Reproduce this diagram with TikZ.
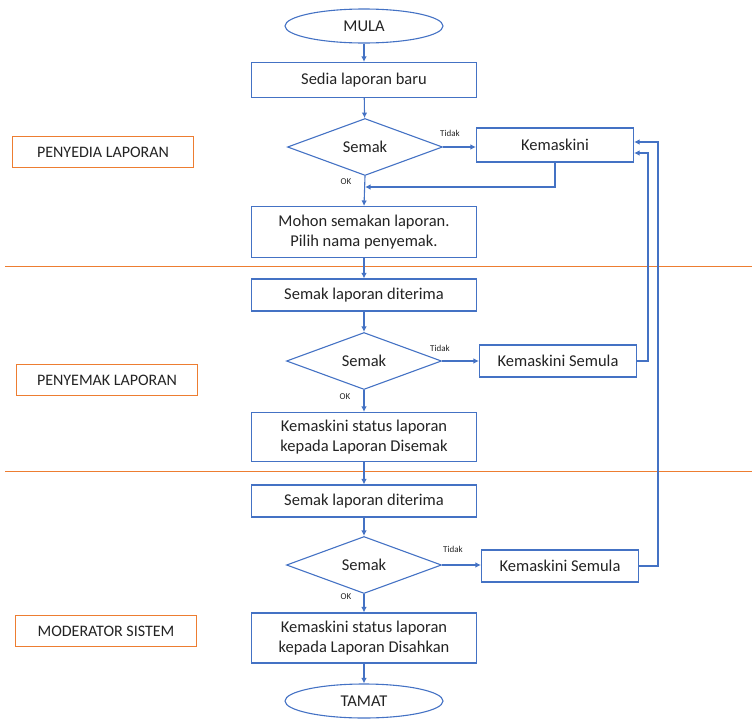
\documentclass[tikz,border=0pt]{standalone}
\usepackage{fontspec}
\setmainfont{Carlito}
\usetikzlibrary{shapes.geometric,arrows.meta}
\definecolor{flowblue}{RGB}{68,114,196}
\definecolor{laneorange}{RGB}{237,125,49}
\definecolor{txtgray}{RGB}{35,35,35}
\begin{document}
\begin{tikzpicture}[x=1pt,y=-1pt,
  every node/.style={font=\fontsize{16.5}{19}\selectfont, text=txtgray},
  procbox/.style={draw=flowblue, line width=1.1pt, rectangle, minimum width=225, minimum height=35, inner sep=0, align=center},
  sidebox/.style={draw=flowblue, line width=1.1pt, rectangle, minimum width=157, minimum height=32, inner sep=0},
  decbox/.style={draw=flowblue, line width=1.1pt, diamond, aspect=2.6, minimum width=155, minimum height=57, inner sep=0},
  termbox/.style={draw=flowblue, line width=1.1pt, ellipse, minimum width=158, minimum height=34, inner sep=0},
  lanebox/.style={draw=laneorange, line width=0.7pt, rectangle, minimum width=181, minimum height=31, inner sep=0, font=\fontsize{16}{18}\selectfont},
  smalllbl/.style={font=\fontsize{9}{10}\selectfont, inner sep=0},
  flow/.style={draw=flowblue, line width=1.1pt, -{Latex[length=5.5pt,width=5.5pt]}},
  lane/.style={draw=laneorange, line width=1pt}
]
\useasboundingbox (0,0) rectangle (755,718);

% lane separators
\coordinate (l1a) at (5,266); \coordinate (l1b) at (752,266);
\coordinate (l2a) at (5,471); \coordinate (l2b) at (752,471);
\draw[lane] (l1a) -- (l1b);
\draw[lane] (l2a) -- (l2b);

% lane labels
\node[lanebox] (lab1) at (103,152) {PENYEDIA LAPORAN};
\node[lanebox] (lab2) at (107,380) {PENYEMAK LAPORAN};
\node[lanebox] (lab3) at (106,631) {MODERATOR SISTEM};

% nodes
\node[termbox] (mula) at (364,26) {MULA};
\node[procbox] (sedia) at (364,80) {Sedia laporan baru};
\node[decbox] (d1) at (365,147) {Semak};
\node[sidebox, minimum height=34] (k1) at (555,145) {Kemaskini};
\node[procbox, minimum height=51] (mohon) at (364,232) {Mohon semakan laporan.\\[1pt]Pilih nama penyemak.};

\node[procbox, minimum height=32] (s2) at (364,295) {Semak laporan diterima};
\node[decbox] (d2) at (364,361) {Semak};
\node[sidebox] (k2) at (558,361) {Kemaskini Semula};
\node[procbox, minimum height=49] (st2) at (364,437) {Kemaskini status laporan\\[1pt]kepada Laporan Disemak};

\node[procbox, minimum height=32] (s3) at (364,501) {Semak laporan diterima};
\node[decbox] (d3) at (364,565) {Semak};
\node[sidebox] (k3) at (560,566) {Kemaskini Semula};
\node[procbox, minimum height=50] (st3) at (364,638) {Kemaskini status laporan\\[1pt]kepada Laporan Disahkan};
\node[termbox] (tamat) at (364,701) {TAMAT};

% small labels
\node[smalllbl] (t1) at (450,133) {Tidak};
\node[smalllbl] (o1) at (346,182) {OK};
\node[smalllbl] (t2) at (440,348) {Tidak};
\node[smalllbl] (o2) at (345,397) {OK};
\node[smalllbl] (t3) at (453,549) {Tidak};
\node[smalllbl] (o3) at (346,597) {OK};

% connectors
\draw[flow] (mula) -- (sedia);
\draw[flow] (sedia) -- (d1);
\draw[flow] (d1.east) -- (k1.west |- d1.east);
\coordinate (j1) at (365,187);
\draw[flow] (k1.south) |- (j1);
\draw[flow] (d1.south) -- (mohon.north);
\draw[flow] (mohon) -- (s2);
\draw[flow] (s2) -- (d2);
\draw[flow] (d2.east) -- (k2.west);
\coordinate (r2) at (648,361);
\coordinate (e2) at ([yshift=-8]k1.east);
\draw[flow] (k2.east) -- (r2) |- (e2);
\draw[flow] (d2.south) -- (st2.north);
\draw[flow] (st2) -- (s3);
\draw[flow] (s3) -- (d3);
\draw[flow] (d3.east) -- (k3.west |- d3.east);
\coordinate (r3) at (658,566);
\coordinate (e3) at ([yshift=3]k1.east);
\draw[flow] (k3.east) -- (r3) |- (e3);
\draw[flow] (d3.south) -- (st3.north);
\draw[flow] (st3) -- (tamat);
\end{tikzpicture}
\end{document}
